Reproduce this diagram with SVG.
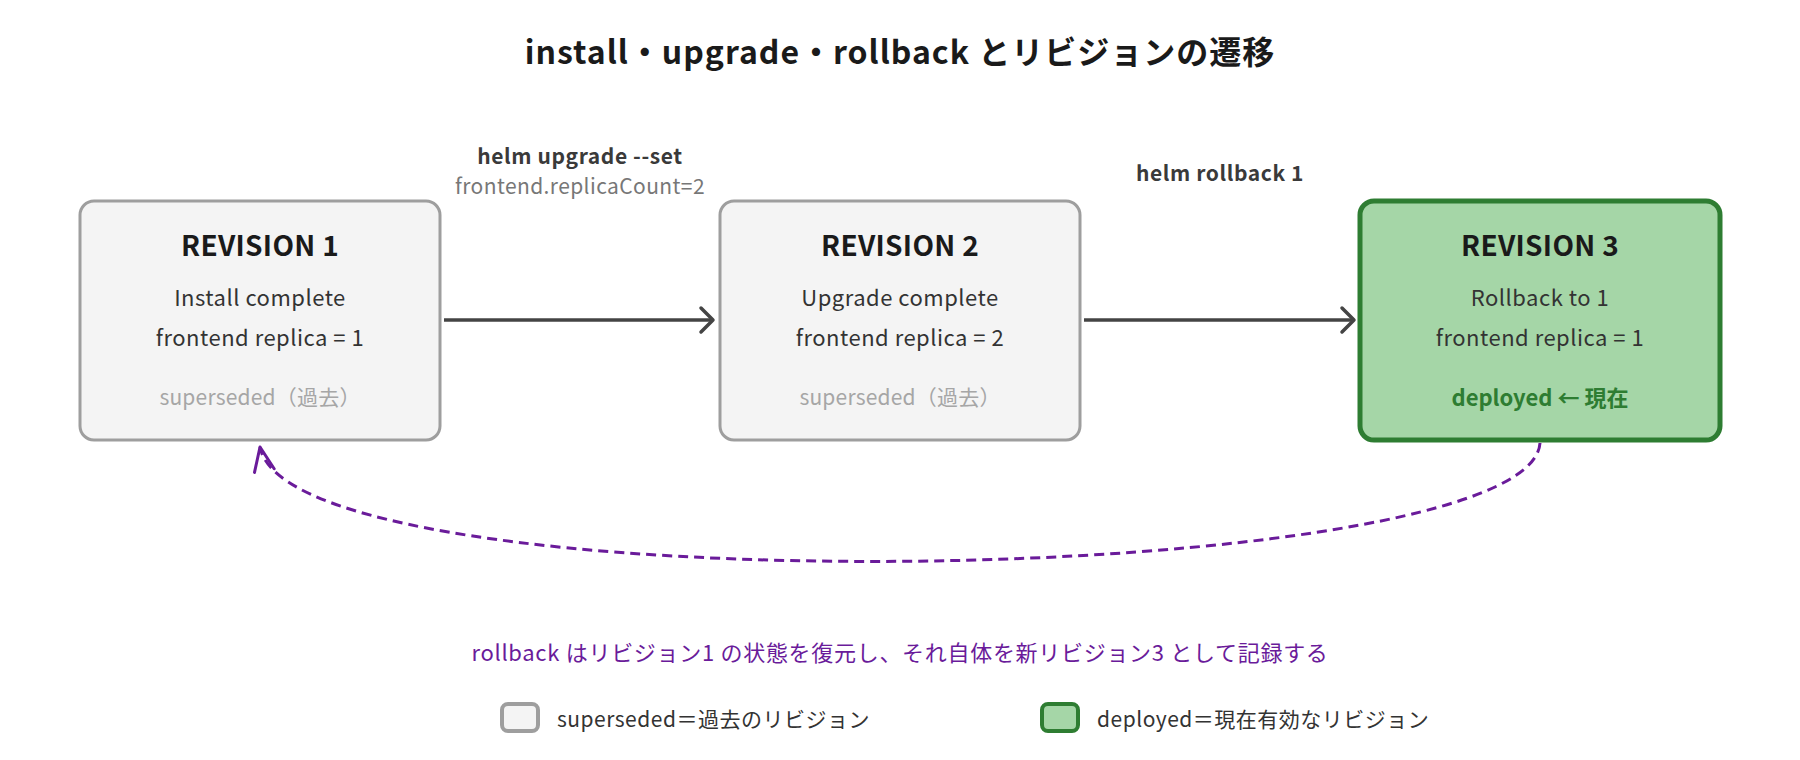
<svg xmlns="http://www.w3.org/2000/svg" width="1800" height="760" viewBox="0 0 1800 760">
  <defs>
    <style>
      text { font-family: "Noto Sans CJK JP", "Noto Sans", sans-serif; text-anchor: middle; dominant-baseline: central; }
      .title { font-size: 32px; font-weight: 700; fill: #1a1a1a; letter-spacing: 1px; }
      .rev { font-size: 28px; font-weight: 700; fill: #1a1a1a; letter-spacing: 0.3px; }
      .body { font-size: 22px; fill: #333333; letter-spacing: 0.5px; }
      .past { font-size: 21px; fill: #a6a6a6; letter-spacing: 0.2px; }
      .now { font-size: 22px; font-weight: 700; fill: #2e7d32; }
      .cmd { font-size: 21px; font-weight: 700; fill: #3a3a3a; letter-spacing: 0.6px; }
      .arg { font-size: 21px; fill: #777777; letter-spacing: 0.4px; }
      .note { font-size: 22px; fill: #6a1b9a; letter-spacing: 0.7px; }
      .leg { font-size: 21px; fill: #333333; text-anchor: start; letter-spacing: 0.5px; }
      .boxPast { fill: #f4f4f4; stroke: #9e9e9e; stroke-width: 3; }
      .boxNow { fill: #a5d6a7; stroke: #2e7d32; stroke-width: 5; }
      .flow { fill: none; stroke: #444444; stroke-width: 3.5; }
      .back { fill: none; stroke: #6a1b9a; stroke-width: 3; stroke-dasharray: 10 6; }
    </style>
    <marker id="head" markerUnits="userSpaceOnUse" viewBox="-16 -16 20 32" refX="0" refY="0" markerWidth="20" markerHeight="32" orient="auto">
      <path d="M-12,-12 L0,0 L-12,12" fill="none" stroke="#444444" stroke-width="3.5" stroke-linecap="round" stroke-linejoin="round"/>
    </marker>
    <marker id="headP" markerUnits="userSpaceOnUse" viewBox="-28 -14 32 28" refX="0" refY="0" markerWidth="32" markerHeight="28" orient="auto">
      <path d="M-24,-10 L0,0 L-24,10" fill="none" stroke="#6a1b9a" stroke-width="3" stroke-linecap="round" stroke-linejoin="round"/>
    </marker>
  </defs>

  <rect width="1800" height="760" fill="#ffffff"/>

  <text class="title" x="900" y="50">install・upgrade・rollback とリビジョンの遷移</text>

  <g id="connectors">
    <line class="flow" x1="444" y1="320" x2="713" y2="320" marker-end="url(#head)"/>
    <line class="flow" x1="1084" y1="320" x2="1354" y2="320" marker-end="url(#head)"/>
    <path class="back" d="M1540,443 C1530,590 290,610 260,447" marker-end="url(#headP)"/>
    <text class="cmd" x="580" y="155">helm upgrade --set</text>
    <text class="arg" x="580" y="185">frontend.replicaCount=2</text>
    <text class="cmd" x="1220" y="172">helm rollback 1</text>
  </g>

  <g id="rev1">
    <rect class="boxPast" x="80" y="201" width="360" height="239" rx="14"/>
    <text class="rev" x="260" y="244">REVISION 1</text>
    <text class="body" x="260" y="296">Install complete</text>
    <text class="body" x="260" y="336">frontend replica = 1</text>
    <text class="past" x="260" y="396">superseded（過去）</text>
  </g>

  <g id="rev2">
    <rect class="boxPast" x="720" y="201" width="360" height="239" rx="14"/>
    <text class="rev" x="900" y="244">REVISION 2</text>
    <text class="body" x="900" y="296">Upgrade complete</text>
    <text class="body" x="900" y="336">frontend replica = 2</text>
    <text class="past" x="900" y="396">superseded（過去）</text>
  </g>

  <g id="rev3">
    <rect class="boxNow" x="1360" y="201" width="360" height="239" rx="14"/>
    <text class="rev" x="1540" y="244">REVISION 3</text>
    <text class="body" x="1540" y="296">Rollback to 1</text>
    <text class="body" x="1540" y="336">frontend replica = 1</text>
    <text class="now" x="1540" y="396">deployed ← 現在</text>
  </g>

  <g id="note">
    <text class="note" x="900" y="651">rollback はリビジョン1 の状態を復元し、それ自体を新リビジョン3 として記録する</text>
  </g>

  <g id="legend">
    <rect x="502" y="704" width="36" height="27" rx="6" fill="#f4f4f4" stroke="#9e9e9e" stroke-width="4"/>
    <text class="leg" x="557" y="718">superseded＝過去のリビジョン</text>
    <rect x="1042" y="704" width="36" height="27" rx="6" fill="#a5d6a7" stroke="#2e7d32" stroke-width="4"/>
    <text class="leg" x="1097" y="718">deployed＝現在有効なリビジョン</text>
  </g>
</svg>
